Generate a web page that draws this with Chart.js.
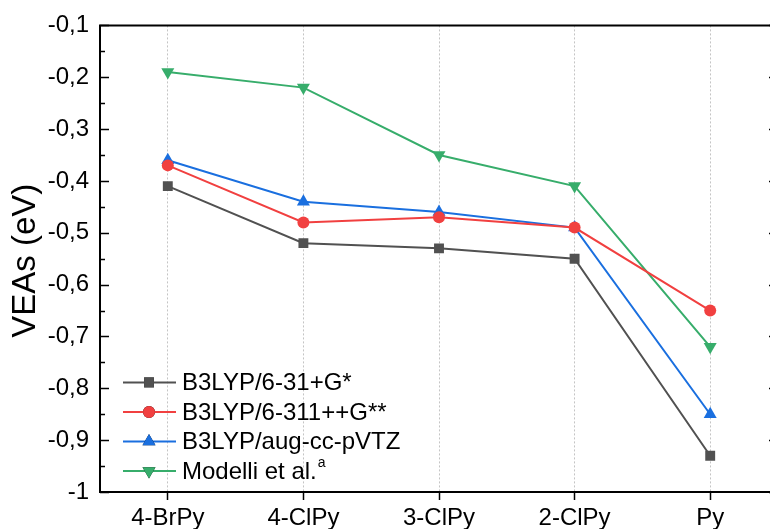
<!DOCTYPE html>
<html lang="en">
<head>
    <meta charset="UTF-8">
    <title>VEAs</title>
    <style>
        html, body {
            margin: 0;
            padding: 0;
            background: #ffffff;
            overflow: hidden;
            width: 770px;
            height: 529px;
        }
        canvas { display: block; }
    </style>
</head>
<body>
    <canvas id="veaChart" width="790" height="529"></canvas>

    <script src="https://cdn.jsdelivr.net/npm/chart.js@4/dist/chart.umd.min.js"></script>
    <script>
        // data
        const categories = ['4-BrPy', '4-ClPy', '3-ClPy', '2-ClPy', 'Py'];
        const b3lyp631 = [-0.41, -0.52, -0.53, -0.55, -0.93];
        const b3lyp6311 = [-0.37, -0.48, -0.47, -0.49, -0.65];
        const b3lypAug = [-0.36, -0.44, -0.46, -0.49, -0.85];
        const modelli = [-0.19, -0.22, -0.35, -0.41, -0.72];

        const yTickValues = [-1, -0.9, -0.8, -0.7, -0.6, -0.5, -0.4, -0.3, -0.2, -0.1];
        const yTickLabels = ['-1', '-0,9', '-0,8', '-0,7', '-0,6', '-0,5', '-0,4', '-0,3', '-0,2', '-0,1'];
        const yMinorTicks = [-0.95, -0.85, -0.75, -0.65, -0.55, -0.45, -0.35, -0.25, -0.15];

        const FONT = "'Liberation Sans', Arial, sans-serif";

        function series(label, data, color, style, radius, rotation) {
            return {
                label: label,
                data: data,
                borderColor: color,
                backgroundColor: color,
                borderWidth: 2,
                pointStyle: style,
                pointRadius: radius,
                pointRotation: rotation || 0,
                pointBorderWidth: 0,
                tension: 0
            };
        }

        // frame, inward y ticks, legend and axis title
        const decorations = {
            id: 'decorations',
            afterDraw(chart) {
                const ctx = chart.ctx;
                const area = chart.chartArea;
                const y = chart.scales.y;

                ctx.save();
                ctx.strokeStyle = '#000';
                ctx.lineWidth = 2;
                ctx.beginPath();
                ctx.moveTo(area.left, area.top);
                ctx.lineTo(area.right, area.top);
                ctx.moveTo(area.left, area.top - 1);
                ctx.lineTo(area.left, area.bottom + 1);
                ctx.moveTo(area.right, area.top - 1);
                ctx.lineTo(area.right, area.bottom + 1);
                ctx.moveTo(area.left - 1, area.bottom);
                ctx.lineTo(area.right, area.bottom);
                ctx.stroke();

                // y ticks, pointing inward on both sides
                ctx.lineWidth = 1.5;
                ctx.beginPath();
                yTickValues.forEach(v => {
                    const py = Math.round(y.getPixelForValue(v)) + 0.5;
                    ctx.moveTo(area.left, py); ctx.lineTo(area.left + 9, py);
                    ctx.moveTo(area.right, py); ctx.lineTo(area.right - 9, py);
                });
                yMinorTicks.forEach(v => {
                    const py = Math.round(y.getPixelForValue(v)) + 0.5;
                    ctx.moveTo(area.left, py); ctx.lineTo(area.left + 5, py);
                    ctx.moveTo(area.right, py); ctx.lineTo(area.right - 5, py);
                });
                ctx.stroke();

                // legend
                const lx = area.left + 23;
                let ly = area.top + 357;
                chart.data.datasets.forEach((ds, i) => {
                    ctx.strokeStyle = ds.borderColor;
                    ctx.lineWidth = 2;
                    ctx.beginPath();
                    ctx.moveTo(lx, ly);
                    ctx.lineTo(lx + 53, ly);
                    ctx.stroke();
                    Chart.helpers.drawPoint(ctx, {
                        pointStyle: ds.pointStyle,
                        radius: ds.pointRadius,
                        rotation: ds.pointRotation,
                        borderWidth: 0
                    }, lx + 26, ly);
                    ctx.fillStyle = ds.backgroundColor;
                    ctx.fill();

                    ctx.fillStyle = '#000';
                    ctx.font = '24px ' + FONT;
                    ctx.textAlign = 'left';
                    ctx.textBaseline = 'middle';
                    ctx.fillText(ds.label, lx + 59, ly + 1);
                    if (ds.sup) {
                        const w = ctx.measureText(ds.label).width;
                        ctx.font = '14px ' + FONT;
                        ctx.fillText(ds.sup, lx + 60 + w, ly - 8);
                    }
                    ly += 29.5;
                });

                // y axis title
                ctx.fillStyle = '#000';
                ctx.font = '33px ' + FONT;
                ctx.textAlign = 'center';
                ctx.textBaseline = 'middle';
                ctx.translate(26, (area.top + area.bottom) / 2 + 2);
                ctx.rotate(-Math.PI / 2);
                ctx.fillText('VEAs (eV)', 0, 0);
                ctx.restore();
            }
        };

        const modelliSet = series('Modelli et al.', modelli, '#37AD6B', 'triangle', 7.5, 180);
        modelliSet.sup = 'a';

        const chart = new Chart(document.getElementById('veaChart'), {
            type: 'line',
            data: {
                labels: categories,
                datasets: [
                    series('B3LYP/6-31+G*', b3lyp631, '#515151', 'rect', 7),
                    series('B3LYP/6-311++G**', b3lyp6311, '#F14040', 'circle', 6),
                    series('B3LYP/aug-cc-pVTZ', b3lypAug, '#1A6FDF', 'triangle', 7.5),
                    modelliSet
                ]
            },
            options: {
                responsive: false,
                animation: false,
                devicePixelRatio: 1,
                layout: { padding: { top: 22, right: 12, left: 0, bottom: 0 } },
                plugins: {
                    legend: { display: false },
                    tooltip: { enabled: false }
                },
                scales: {
                    x: {
                        offset: true,
                        afterFit: s => { s.height = 37; },
                        grid: {
                            color: '#c4c4c4',
                            lineWidth: 1,
                            tickColor: '#000',
                            tickLength: 8,
                            tickWidth: 1.5
                        },
                        border: { display: false, dash: [2, 2] },
                        ticks: {
                            color: '#000',
                            font: { family: FONT, size: 24 },
                            padding: 4,
                            maxRotation: 0
                        }
                    },
                    y: {
                        min: -1,
                        max: -0.1,
                        afterFit: s => { s.width = 100; },
                        afterBuildTicks: s => { s.ticks = yTickValues.map(v => ({ value: v })); },
                        grid: { display: false, drawTicks: false },
                        border: { display: false },
                        ticks: {
                            color: '#000',
                            font: { family: FONT, size: 24 },
                            padding: 11,
                            callback: (v, i) => yTickLabels[i]
                        }
                    }
                }
            },
            plugins: [decorations]
        });
    </script>
</body>
</html>
